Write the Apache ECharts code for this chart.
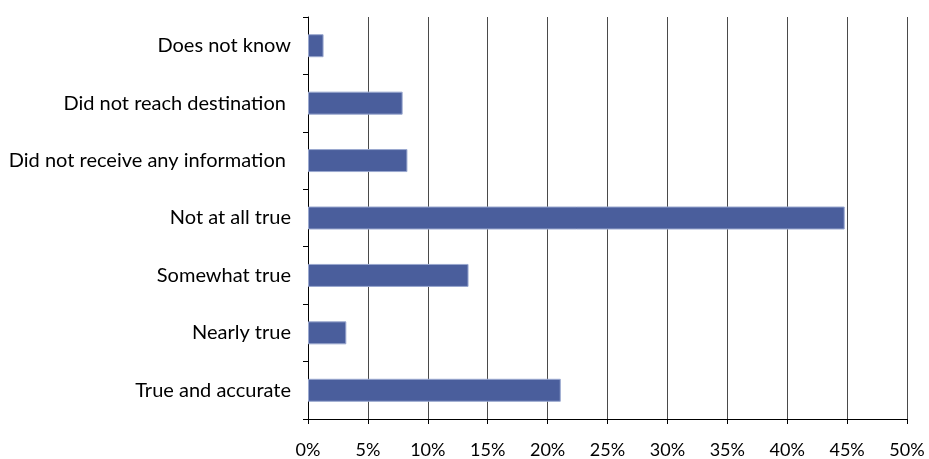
<!DOCTYPE html>
<html>
<head>
<meta charset="utf-8">
<script src="https://cdn.jsdelivr.net/npm/echarts@6/dist/echarts.min.js"></script>
<style>
  html, body { margin: 0; padding: 0; background: #fff; }
  #chart { width: 929px; height: 459px; }
</style>
</head>
<body>
<div id="chart"></div>
<script>
// Response categories, listed bottom to top as drawn on the category axis
const categories = [
  'True and accurate',
  'Nearly true',
  'Somewhat true',
  'Not at all true',
  'Did not receive any information ',
  'Did not reach destination ',
  'Does not know'
];
// Share of respondents (%)
const shares = [21.1, 3.2, 13.4, 44.8, 8.3, 7.9, 1.3];
// Percentage axis ticks
const axisMin = 0;
const axisMax = 50;
const axisStep = 5;

const chart = echarts.init(document.getElementById('chart'));
const font = 'Lato, "Open Sans", sans-serif';

chart.setOption({
  animation: false,
  grid: { left: 308, right: 22, top: 17, bottom: 38, containLabel: false },
  xAxis: {
    type: 'value',
    min: axisMin,
    max: axisMax,
    interval: axisStep,
    axisLine: { show: true, lineStyle: { color: '#000', width: 1 } },
    axisTick: { show: true, length: 5, lineStyle: { color: '#000' } },
    axisLabel: {
      formatter: '{value}%',
      margin: 22,
      color: '#000',
      fontFamily: font,
      fontSize: 18
    },
    splitLine: { show: true, lineStyle: { color: '#4a4a4a', width: 1 } }
  },
  yAxis: {
    type: 'category',
    data: categories,
    axisLine: { show: true, lineStyle: { color: '#000', width: 1 } },
    axisTick: { show: true, length: 5, lineStyle: { color: '#000' } },
    axisLabel: {
      margin: 17,
      color: '#000',
      fontFamily: font,
      fontSize: 20
    },
    splitLine: { show: false }
  },
  series: [{
    type: 'bar',
    data: shares,
    barWidth: 23,
    itemStyle: { color: '#4A5E9C', borderColor: '#9AA8CF', borderWidth: 1 }
  }]
});
</script>
</body>
</html>
